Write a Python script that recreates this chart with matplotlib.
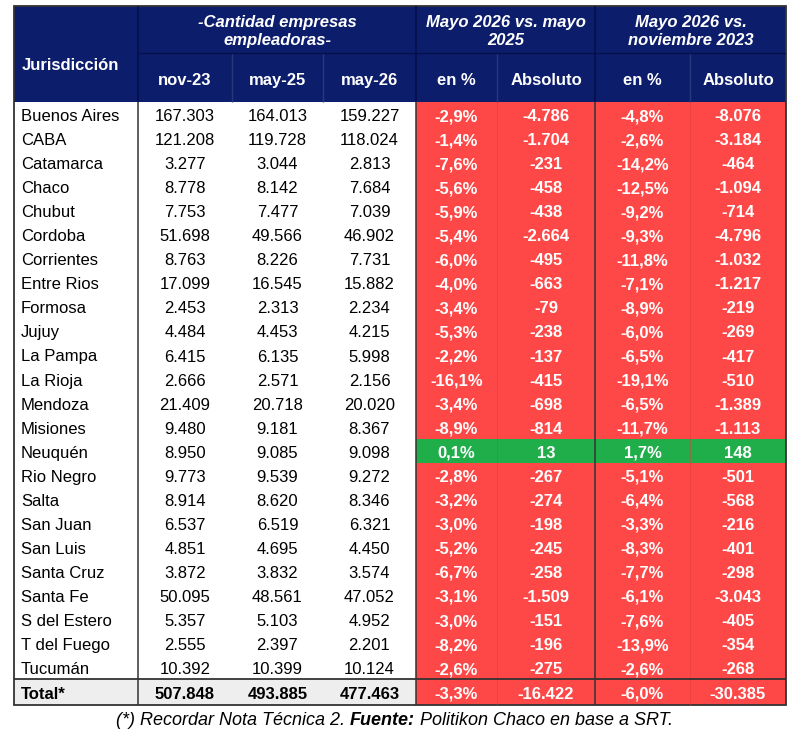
import matplotlib.pyplot as plt
from matplotlib.patches import Rectangle

plt.rcParams["font.family"] = ["Liberation Sans", "DejaVu Sans"]
plt.rcParams["lines.solid_capstyle"] = "butt"

jurisdicciones = [
    "Buenos Aires", "CABA", "Catamarca", "Chaco", "Chubut", "Cordoba",
    "Corrientes", "Entre Rios", "Formosa", "Jujuy", "La Pampa", "La Rioja",
    "Mendoza", "Misiones", "Neuquén", "Rio Negro", "Salta", "San Juan",
    "San Luis", "Santa Cruz", "Santa Fe", "S del Estero", "T del Fuego",
    "Tucumán",
]
nov23 = ["167.303", "121.208", "3.277", "8.778", "7.753", "51.698", "8.763",
         "17.099", "2.453", "4.484", "6.415", "2.666", "21.409", "9.480",
         "8.950", "9.773", "8.914", "6.537", "4.851", "3.872", "50.095",
         "5.357", "2.555", "10.392"]
may25 = ["164.013", "119.728", "3.044", "8.142", "7.477", "49.566", "8.226",
         "16.545", "2.313", "4.453", "6.135", "2.571", "20.718", "9.181",
         "9.085", "9.539", "8.620", "6.519", "4.695", "3.832", "48.561",
         "5.103", "2.397", "10.399"]
may26 = ["159.227", "118.024", "2.813", "7.684", "7.039", "46.902", "7.731",
         "15.882", "2.234", "4.215", "5.998", "2.156", "20.020", "8.367",
         "9.098", "9.272", "8.346", "6.321", "4.450", "3.574", "47.052",
         "4.952", "2.201", "10.124"]
pct_yoy = ["-2,9%", "-1,4%", "-7,6%", "-5,6%", "-5,9%", "-5,4%", "-6,0%",
           "-4,0%", "-3,4%", "-5,3%", "-2,2%", "-16,1%", "-3,4%", "-8,9%",
           "0,1%", "-2,8%", "-3,2%", "-3,0%", "-5,2%", "-6,7%", "-3,1%",
           "-3,0%", "-8,2%", "-2,6%"]
abs_yoy = ["-4.786", "-1.704", "-231", "-458", "-438", "-2.664", "-495",
           "-663", "-79", "-238", "-137", "-415", "-698", "-814", "13",
           "-267", "-274", "-198", "-245", "-258", "-1.509", "-151", "-196",
           "-275"]
pct_nov = ["-4,8%", "-2,6%", "-14,2%", "-12,5%", "-9,2%", "-9,3%", "-11,8%",
           "-7,1%", "-8,9%", "-6,0%", "-6,5%", "-19,1%", "-6,5%", "-11,7%",
           "1,7%", "-5,1%", "-6,4%", "-3,3%", "-8,3%", "-7,7%", "-6,1%",
           "-7,6%", "-13,9%", "-2,6%"]
abs_nov = ["-8.076", "-3.184", "-464", "-1.094", "-714", "-4.796", "-1.032",
           "-1.217", "-219", "-269", "-417", "-510", "-1.389", "-1.113", "148",
           "-501", "-568", "-216", "-401", "-298", "-3.043", "-405", "-354",
           "-268"]
total_row = ["Total*", "507.848", "493.885", "477.463", "-3,3%", "-16.422",
             "-6,0%", "-30.385"]

sub_headers = ["nov-23", "may-25", "may-26", "en %", "Absoluto", "en %", "Absoluto"]
group_headers = [["-Cantidad empresas", "empleadoras-"],
                 ["Mayo 2026 vs. mayo", "2025"],
                 ["Mayo 2026 vs.", "noviembre 2023"]]
footer = ["(*) Recordar Nota Técnica 2. ", "Fuente:", " Politikon Chaco en base a SRT."]

NAVY = "#0c1d6b"
RED = "#fe4747"
GREEN = "#1fae49"
GRAY = "#eeeeee"
EDGE = "#333333"
FS = 12

W, H = 789, 732
fig = plt.figure(figsize=(W / 100, H / 100), dpi=100)
ax = fig.add_axes([0, 0, 1, 1])
ax.set_xlim(0, W)
ax.set_ylim(H, 0)
ax.axis("off")

col_edges = [14, 138, 232, 323, 416, 497, 595, 690, 786]
top, mid, head_bot = 6, 53, 102
row_h = 24.05
n = len(jurisdicciones)
total_top = head_bot + n * row_h
bottom = total_top + 26

# header background
ax.add_patch(Rectangle((col_edges[0], top), col_edges[-1] - col_edges[0],
                       head_bot - top, color=NAVY, lw=0))
for x in col_edges[2:4] + [col_edges[5], col_edges[7]]:
    ax.plot([x, x], [mid, head_bot], color="#26377e", lw=1)
for x in [col_edges[1], col_edges[4], col_edges[6]]:
    ax.plot([x, x], [top, head_bot], color="#05104a", lw=1.2)
ax.plot([col_edges[1], col_edges[-1] - 1], [mid, mid], color="#05104a", lw=1)

ax.text(22, 70, "Jurisdicción", color="white", fontsize=FS, fontweight="bold",
        ha="left", va="baseline")
group_spans = [(1, 4), (4, 6), (6, 8)]
for (a, b), lines in zip(group_spans, group_headers):
    cx = (col_edges[a] + col_edges[b]) / 2
    for k, line in enumerate(lines):
        ax.text(cx, 27 + 18 * k, line, color="white", fontsize=FS,
                fontweight="bold", fontstyle="italic", ha="center", va="baseline")
for i, label in enumerate(sub_headers):
    cx = (col_edges[i + 1] + col_edges[i + 2]) / 2
    ax.text(cx, 85, label, color="white", fontsize=FS, fontweight="bold",
            ha="center", va="baseline")

# body rows
columns = [nov23, may25, may26, pct_yoy, abs_yoy, pct_nov, abs_nov]
for r, name in enumerate(jurisdicciones):
    y0 = head_bot + r * row_h
    by = y0 + 19
    fill = GREEN if not pct_yoy[r].startswith("-") else RED
    ax.add_patch(Rectangle((col_edges[4], y0), col_edges[-1] - col_edges[4],
                           row_h, color=fill, lw=0))
    ax.text(21, by, name, fontsize=FS, ha="left", va="baseline")
    for c, vals in enumerate(columns):
        cx = (col_edges[c + 1] + col_edges[c + 2]) / 2
        if c < 3:
            ax.text(cx, by, vals[r], fontsize=FS, ha="center", va="baseline")
        else:
            ax.text(cx, by, vals[r], fontsize=FS, fontweight="bold",
                    color="white", ha="center", va="baseline")

for x in [col_edges[5], col_edges[7]]:
    ax.plot([x, x], [head_bot, bottom], color="#e03c3c", lw=0.6, alpha=0.6)

# total row
ax.add_patch(Rectangle((col_edges[0], total_top), col_edges[4] - col_edges[0],
                       bottom - total_top, color=GRAY, lw=0))
ax.add_patch(Rectangle((col_edges[4], total_top), col_edges[-1] - col_edges[4],
                       bottom - total_top, color=RED, lw=0))
tby = total_top + 19.5
for c, val in enumerate(total_row):
    if c == 0:
        ax.text(21, tby, val, fontsize=FS, fontweight="bold", ha="left", va="baseline")
    else:
        cx = (col_edges[c] + col_edges[c + 1]) / 2
        ax.text(cx, tby, val, fontsize=FS, fontweight="bold",
                color="black" if c < 4 else "white", ha="center", va="baseline")

# borders
ax.plot([col_edges[0], col_edges[-1]], [total_top, total_top], color=EDGE, lw=1.3)
for x in [col_edges[1], col_edges[4], col_edges[6]]:
    ax.plot([x, x], [head_bot, bottom], color=EDGE, lw=1.1)
ax.add_patch(Rectangle((col_edges[0], top), col_edges[-1] - col_edges[0],
                       bottom - top, fill=False, edgecolor=EDGE, lw=1.3))

# footer: mixed italic / bold italic, centred as one line
fy = 725
weights = ["normal", "bold", "normal"]
renderer = fig.canvas.get_renderer()
parts = [ax.text(0, fy, txt, fontsize=13, fontstyle="italic", fontweight=wt,
                 ha="left", va="baseline") for txt, wt in zip(footer, weights)]
widths = [t.get_window_extent(renderer=renderer).width for t in parts]
x = W / 2 - sum(widths) / 2
for t, w in zip(parts, widths):
    t.set_x(x)
    x += w

fig.savefig("out.png", dpi=100)
